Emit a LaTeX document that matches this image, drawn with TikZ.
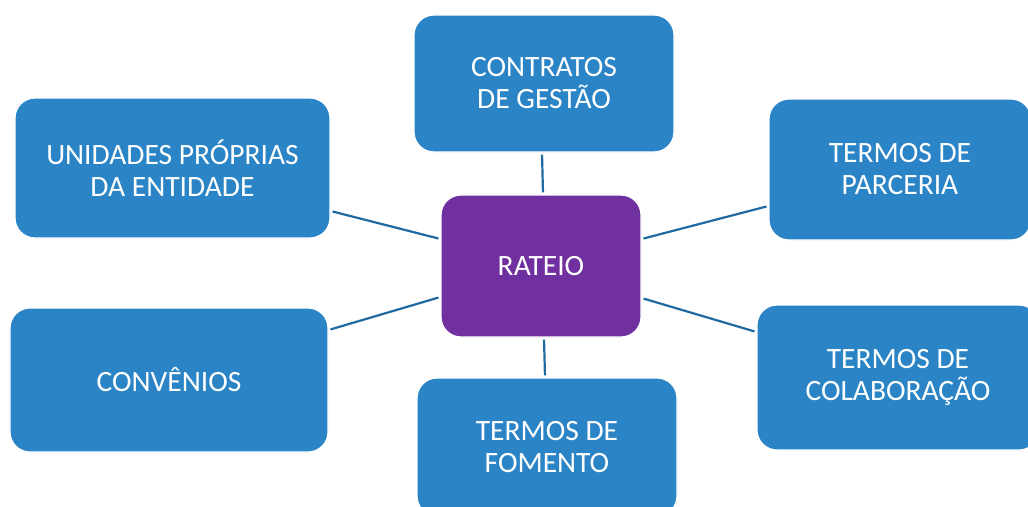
\documentclass[tikz,border=0pt]{standalone}
\usepackage{fontspec}
\setmainfont{Carlito}
\definecolor{boxblue}{HTML}{2A84C6}
\definecolor{boxpurple}{HTML}{7030A0}
\definecolor{linkblue}{HTML}{1F6AA0}
\begin{document}
\begin{tikzpicture}[x=1pt,y=-1pt,
  box/.style={rectangle, rounded corners=20pt, fill=boxblue, draw=white, line width=1.2pt,
    text=white, align=center, inner sep=0pt,
    font=\fontsize{29.5}{32}\selectfont},
  link/.style={draw=linkblue, line width=2.2pt, shorten <=2pt, shorten >=2pt}]
\useasboundingbox (0,0) rectangle (1028,506);
\clip (0,0) rectangle (1028,506);
\node[box, fill=boxpurple, minimum width=200pt, minimum height=142pt] (r) at (541,266) {RATEIO};
\node[box, minimum width=260pt, minimum height=137pt] (c) at (544,83.5) {CONTRATOS\\DE GESTÃO};
\node[box, minimum width=315pt, minimum height=140pt] (u) at (172.5,168) {UNIDADES PRÓPRIAS\\DA ENTIDADE};
\node[box, minimum width=262pt, minimum height=141pt] (p) at (900,169.5) {TERMOS DE\\PARCERIA};
\node[box, minimum width=318pt, minimum height=144pt] (v) at (169,380) {CONVÊNIOS};
\node[box, minimum width=282pt, minimum height=145pt] (l) at (898,377.5) {TERMOS DE\\COLABORAÇÃO};
\node[box, minimum width=260pt, minimum height=138pt] (f) at (547,447) {TERMOS DE\\FOMENTO};
\draw[link] ([xshift=-2pt]c.south) -- ([xshift=2pt]r.north);
\draw[link] ([xshift=3pt]r.south) -- ([xshift=-2pt]f.north);
\draw[link] ([yshift=-43pt]u.east) -- ([yshift=27pt]r.west);
\draw[link] ([yshift=50pt]v.east) -- ([yshift=-31pt]r.west);
\draw[link] ([yshift=27pt]r.east) -- ([yshift=-36.5pt]p.west);
\draw[link] ([yshift=-32pt]r.east) -- ([yshift=45.5pt]l.west);
\end{tikzpicture}
\end{document}
